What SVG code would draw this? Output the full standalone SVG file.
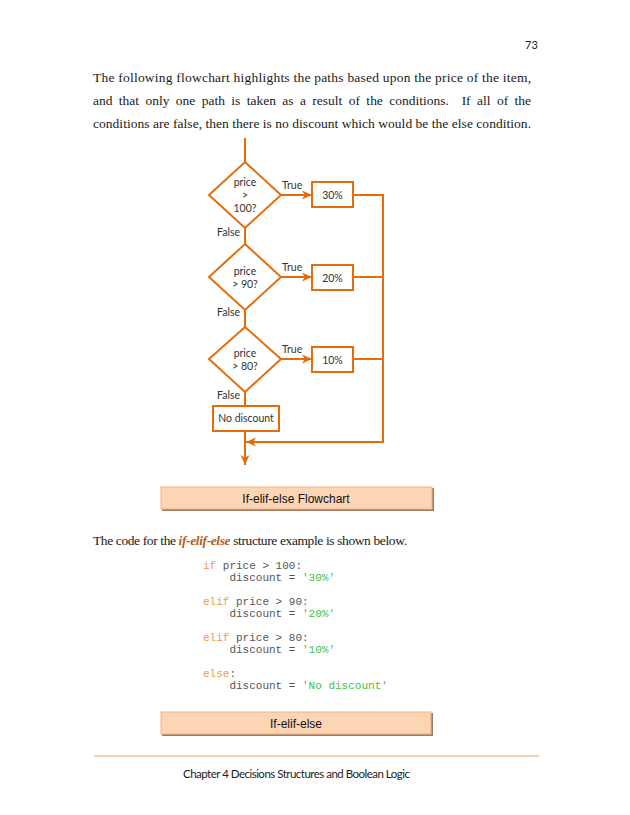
<svg xmlns="http://www.w3.org/2000/svg" width="630" height="815" viewBox="0 0 630 815">
<style>
.body{font-family:"Liberation Serif","DejaVu Serif",serif;font-size:13.5px;fill:#1a1a1a}
.fc{fill:none;stroke:#E46C0A;stroke-width:2}
.box{fill:#fff;stroke:#E46C0A;stroke-width:2}
.lbl{font-family:Lato,"Open Sans",sans-serif;font-size:10.5px;fill:#333}
.mid{text-anchor:middle}
.code{font-family:"Liberation Mono","Courier New",monospace;font-size:11px;fill:#555}
.kw{fill:#F79646}
.str{fill:#45C045}
.cap{font-family:"Liberation Sans",Arial,sans-serif;font-size:12px;fill:#111;text-anchor:middle}
</style>
<defs>
<marker id="arr" markerUnits="userSpaceOnUse" markerWidth="11" markerHeight="11" refX="10" refY="5.5" orient="auto">
<path d="M0,1 L10,5.5 L0,10 L2.8,5.5 z" fill="#E46C0A"/>
</marker>
</defs>
<rect width="630" height="815" fill="#fff"/>
<text x="525" y="49" font-family="Lato,sans-serif" font-size="11" fill="#222">73</text>
<g id="intro">
<text class="body" x="93" y="82" textLength="438" lengthAdjust="spacing">The following flowchart highlights the paths based upon the price of the item,</text>
<text class="body" x="93" y="105" textLength="438" lengthAdjust="spacing" word-spacing="3" xml:space="preserve">and that only one path is taken as a result of the conditions.  If all of the</text>
<text class="body" x="93" y="128" textLength="438" lengthAdjust="spacing">conditions are false, then there is no discount which would be the else condition.</text>
</g>
<g id="connectors">
<line class="fc" x1="245" y1="138" x2="245" y2="162"/>
<line class="fc" x1="245" y1="228" x2="245" y2="244"/>
<line class="fc" x1="245" y1="310" x2="245" y2="327"/>
<line class="fc" x1="245" y1="392" x2="245" y2="406"/>
<line class="fc" x1="245" y1="431" x2="245" y2="465" marker-end="url(#arr)"/>
<line class="fc" x1="281" y1="195" x2="312" y2="195" marker-end="url(#arr)"/>
<line class="fc" x1="281" y1="277" x2="312" y2="277" marker-end="url(#arr)"/>
<line class="fc" x1="281" y1="359" x2="312" y2="359" marker-end="url(#arr)"/>
<line class="fc" x1="353" y1="195" x2="383" y2="195"/>
<line class="fc" x1="353" y1="277" x2="383" y2="277"/>
<line class="fc" x1="353" y1="359" x2="383" y2="359"/>
<polyline class="fc" points="383,194 383,442 246,442" marker-end="url(#arr)"/>
<text class="lbl" x="282" y="189">True</text>
<text class="lbl" x="282" y="271">True</text>
<text class="lbl" x="282" y="353">True</text>
<text class="lbl" x="217" y="236">False</text>
<text class="lbl" x="217" y="316">False</text>
<text class="lbl" x="217" y="399">False</text>
</g>
<g id="d1">
<polygon class="box" points="245,162 281,195 245,228 209,195"/>
<text class="lbl mid" x="245" y="186">price</text>
<text class="lbl mid" x="245" y="199">&gt;</text>
<text class="lbl mid" x="245" y="212">100?</text>
</g>
<g id="d2">
<polygon class="box" points="245,244 281,277 245,310 209,277"/>
<text class="lbl mid" x="245" y="275">price</text>
<text class="lbl mid" x="245" y="288">&gt; 90?</text>
</g>
<g id="d3">
<polygon class="box" points="245,327 281,359 245,392 209,359"/>
<text class="lbl mid" x="245" y="357">price</text>
<text class="lbl mid" x="245" y="370">&gt; 80?</text>
</g>
<g id="b30">
<rect class="box" x="312" y="182" width="41" height="25"/>
<text class="lbl mid" x="332.5" y="198.5">30%</text>
</g>
<g id="b20">
<rect class="box" x="312" y="265" width="41" height="25"/>
<text class="lbl mid" x="332.5" y="281.5">20%</text>
</g>
<g id="b10">
<rect class="box" x="312" y="347" width="41" height="25"/>
<text class="lbl mid" x="332.5" y="363.5">10%</text>
</g>
<g id="bno">
<rect class="box" x="213" y="406" width="66" height="25"/>
<text class="lbl mid" x="246" y="422">No discount</text>
</g>
<g id="caption1">
<rect x="162" y="488" width="272" height="23" fill="#9C7C62"/>
<rect x="161" y="487" width="271" height="22" fill="#FCD5B5" stroke="#F4B183" stroke-width="1"/>
<text class="cap" x="296" y="503">If-elif-else Flowchart</text>
</g>
<text class="body" x="93" y="545" font-size="12.3" textLength="314" lengthAdjust="spacing">The code for the <tspan font-weight="bold" font-style="italic" fill="#B85E1A">if-elif-else</tspan> structure example is shown below.</text>
<g id="code">
<text class="code" x="203" y="568.5"><tspan class="kw">if</tspan> price &gt; 100:</text>
<text class="code" x="229.4" y="580.5">discount = <tspan class="str">'30%'</tspan></text>
<text class="code" x="203" y="604.5"><tspan class="kw">elif</tspan> price &gt; 90:</text>
<text class="code" x="229.4" y="616.5">discount = <tspan class="str">'20%'</tspan></text>
<text class="code" x="203" y="640.5"><tspan class="kw">elif</tspan> price &gt; 80:</text>
<text class="code" x="229.4" y="652.5">discount = <tspan class="str">'10%'</tspan></text>
<text class="code" x="203" y="676.5"><tspan class="kw">else</tspan>:</text>
<text class="code" x="229.4" y="688.5">discount = <tspan class="str">'No discount'</tspan></text>
</g>
<g id="caption2">
<rect x="162" y="713" width="271" height="23" fill="#9C7C62"/>
<rect x="161" y="712" width="270" height="22" fill="#FCD5B5" stroke="#F4B183" stroke-width="1"/>
<text class="cap" x="296" y="728">If-elif-else</text>
</g>
<line x1="94" y1="756" x2="539" y2="756" stroke="#E9A15F" stroke-width="1.2"/>
<text x="296.5" y="778" font-family="Lato,sans-serif" font-size="11.5" fill="#222" text-anchor="middle" textLength="227" lengthAdjust="spacing">Chapter 4 Decisions Structures and Boolean Logic</text>
</svg>
